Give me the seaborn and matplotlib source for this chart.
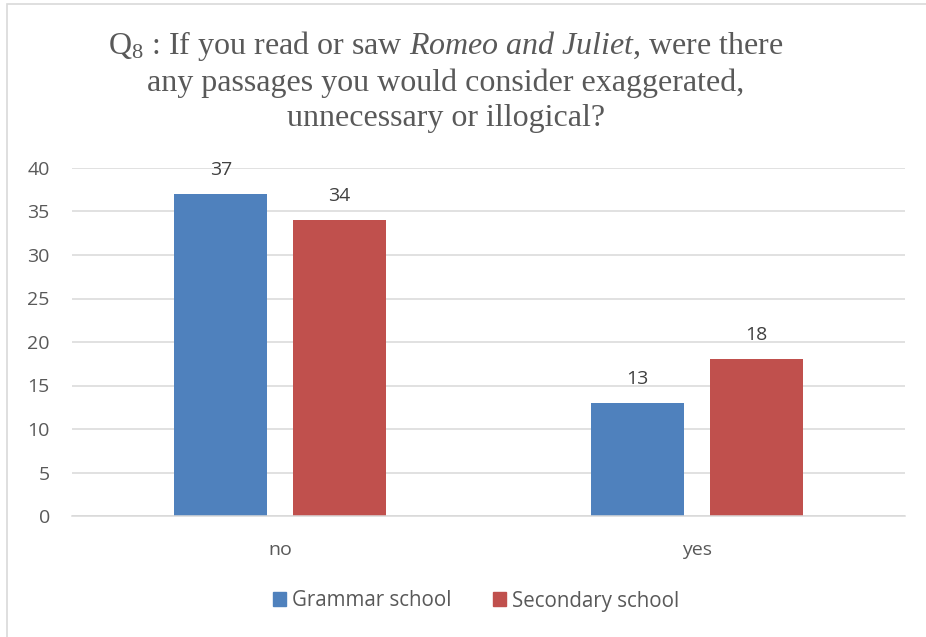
import matplotlib
matplotlib.use("Agg")
import matplotlib.pyplot as plt
from matplotlib.patches import Rectangle
import seaborn as sns
import pandas as pd

# Survey answers per school type
answers = ["no", "yes"]
grammar_school = [37, 13]
secondary_school = [34, 18]
series_names = ["Grammar school", "Secondary school"]
y_ticks = [0, 5, 10, 15, 20, 25, 30, 35, 40]

df = pd.DataFrame({
    "answer": answers * 2,
    "count": grammar_school + secondary_school,
    "school": [series_names[0]] * len(answers) + [series_names[1]] * len(answers),
})

sns.set_theme(style="white")
plt.rcParams["font.family"] = ["Open Sans", "DejaVu Sans"]
plt.rcParams["mathtext.fontset"] = "custom"
plt.rcParams["mathtext.rm"] = "Liberation Serif"
plt.rcParams["mathtext.it"] = "Liberation Serif:italic"

text_gray = "#595959"
grid_gray = "#d9d9d9"
palette = {series_names[0]: "#4f81bd", series_names[1]: "#c0504d"}
label_size = 14

fig = plt.figure(figsize=(9.26, 6.37), dpi=100)
ax = fig.add_axes([72 / 926, 1 - 516 / 637, 833 / 926, 348 / 637])

sns.barplot(data=df, x="answer", y="count", hue="school", order=answers,
            hue_order=series_names, palette=palette, width=0.57, gap=0.215,
            saturation=1, ax=ax, legend=False, linewidth=0)

ax.set_ylim(0, 40)
ax.set_yticks(y_ticks)
ax.set_xlim(-0.5, len(answers) - 0.5)
ax.yaxis.grid(True, color=grid_gray, linewidth=1.1)
ax.set_axisbelow(True)
for side in ["left", "right", "top"]:
    ax.spines[side].set_visible(False)
ax.spines["bottom"].set_color(grid_gray)
ax.spines["bottom"].set_linewidth(1.1)
ax.tick_params(axis="both", length=0, labelsize=label_size, colors=text_gray)
ax.tick_params(axis="x", pad=18)
ax.tick_params(axis="y", pad=16)
ax.set_xlabel("")
ax.set_ylabel("")

for container in ax.containers:
    ax.bar_label(container, fmt="%d", padding=11, fontsize=label_size, color="#404040")

# Legend below the plot area
handles = [Rectangle((0, 0), 1, 1, color=palette[n]) for n in series_names]
fig.legend(handles, series_names, loc="center", ncol=2, frameon=False,
           bbox_to_anchor=(476 / 926, 1 - 601 / 637),
           handlelength=0.65, handleheight=0.65, handletextpad=0.3,
           columnspacing=2.0, fontsize=14.8, labelcolor=text_gray)

# Chart title (serif, with subscript and italic play name)
title = (r"$\mathrm{Q}_\mathrm{8}$ : If you read or saw $\mathit{Romeo\ and\ Juliet}$, were there" "\n"
         "any passages you would consider exaggerated,\n"
         "unnecessary or illogical?")
fig.text(446 / 926, 1 - 81 / 637, title, ha="center", va="center",
         fontsize=23, color=text_gray, family="Liberation Serif",
         linespacing=1.25)

# Chart frame
fig.add_artist(Rectangle((7 / 926, -0.2), 1.2, 1.2 - 4 / 637,
                         transform=fig.transFigure, fill=False,
                         edgecolor=grid_gray, linewidth=1.2))

fig.savefig("out.png", dpi=100, facecolor="white")
